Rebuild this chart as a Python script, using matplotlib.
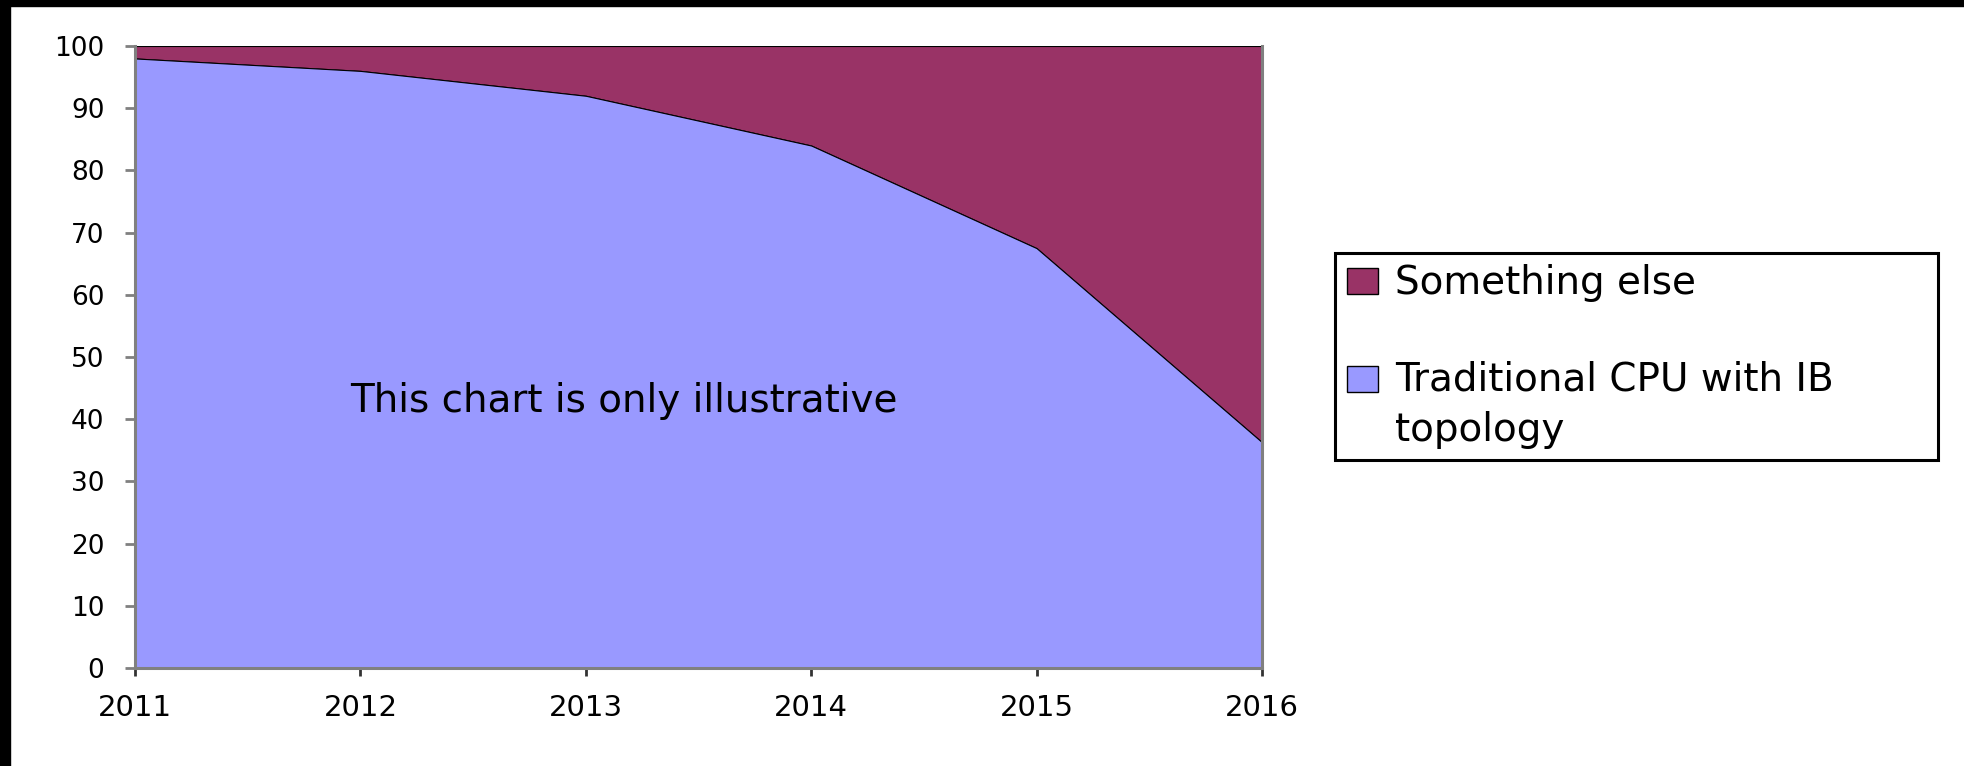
import matplotlib

matplotlib.use("Agg")
import matplotlib.pyplot as plt
import matplotlib.patches as mpatches
from matplotlib.legend_handler import HandlerPatch

# ---- data ----
years = [2011, 2012, 2013, 2014, 2015, 2016]
traditional = [98, 96, 92, 84, 67.5, 36.3]
total = [100, 100, 100, 100, 100, 100]
yticks = list(range(0, 101, 10))

label_trad = "Traditional CPU with IB\ntopology"
label_else = "Something else"
note = "This chart is only illustrative"

c_trad = "#9999FF"
c_else = "#993366"
grey = "#808080"

plt.rcParams.update({
    "font.family": "DejaVu Sans",
})

W, H = 1964, 766
fig = plt.figure(figsize=(W / 100, H / 100), dpi=100)
fig.patch.set_facecolor("white")

# black scan borders on top / left edge
fig.patches.append(mpatches.Rectangle((0, 1 - 6 / H), 1, 6 / H, transform=fig.transFigure,
                                      color="black", zorder=0))
fig.patches.append(mpatches.Rectangle((0, 0), 10 / W, 1, transform=fig.transFigure,
                                      color="black", zorder=0))

ax = fig.add_axes([135 / W, (H - 668) / H, (1262 - 135) / W, (668 - 46) / H])

ax.fill_between(years, traditional, total, facecolor=c_else, edgecolor="black", lw=0.8)
ax.fill_between(years, 0, traditional, facecolor=c_trad, edgecolor="black", lw=0.8)

ax.set_xlim(years[0], years[-1])
ax.set_ylim(0, 100)
ax.set_xticks(years)
ax.set_yticks(yticks)

for side in ["left", "bottom", "right"]:
    ax.spines[side].set_color(grey)
    ax.spines[side].set_linewidth(2.2)
ax.spines["top"].set_visible(False)

ax.tick_params(axis="y", direction="out", length=7, width=2, color=grey,
               labelsize=19, pad=15)
ax.tick_params(axis="x", direction="out", length=6, width=2, color="#333333",
               labelsize=21, pad=13)

ax.text(2013.17, 41.1, note, ha="center", va="baseline", fontsize=28, color="black")


# legend swatch of a two-line label sits on the first line, not the last
def lifted(lift):
    def make(legend, orig_handle, xdescent, ydescent, width, height, fontsize):
        return mpatches.Rectangle((-xdescent, -ydescent + lift * fontsize), width, height)
    return make


h_else = mpatches.Patch(facecolor=c_else, edgecolor="black", lw=1)
h_trad = mpatches.Patch(facecolor=c_trad, edgecolor="black", lw=1)
leg = fig.legend([h_else, h_trad], [label_else, label_trad],
                 loc="center", bbox_to_anchor=(1335 / W, (H - 457) / H, (1938 - 1335) / W, (457 - 256) / H),
                 bbox_transform=fig.transFigure, mode="expand", borderaxespad=0,
                 fontsize=28, frameon=True, fancybox=False, framealpha=1,
                 edgecolor="black", borderpad=0.3, labelspacing=1.5,
                 handlelength=0.8, handleheight=0.64, handletextpad=0.44,
                 handler_map={h_trad: HandlerPatch(patch_func=lifted(0.69))})
leg.get_frame().set_linewidth(2.2)
for t in leg.get_texts():
    t.set_linespacing(1.4)

fig.savefig("out.png", dpi=100)
